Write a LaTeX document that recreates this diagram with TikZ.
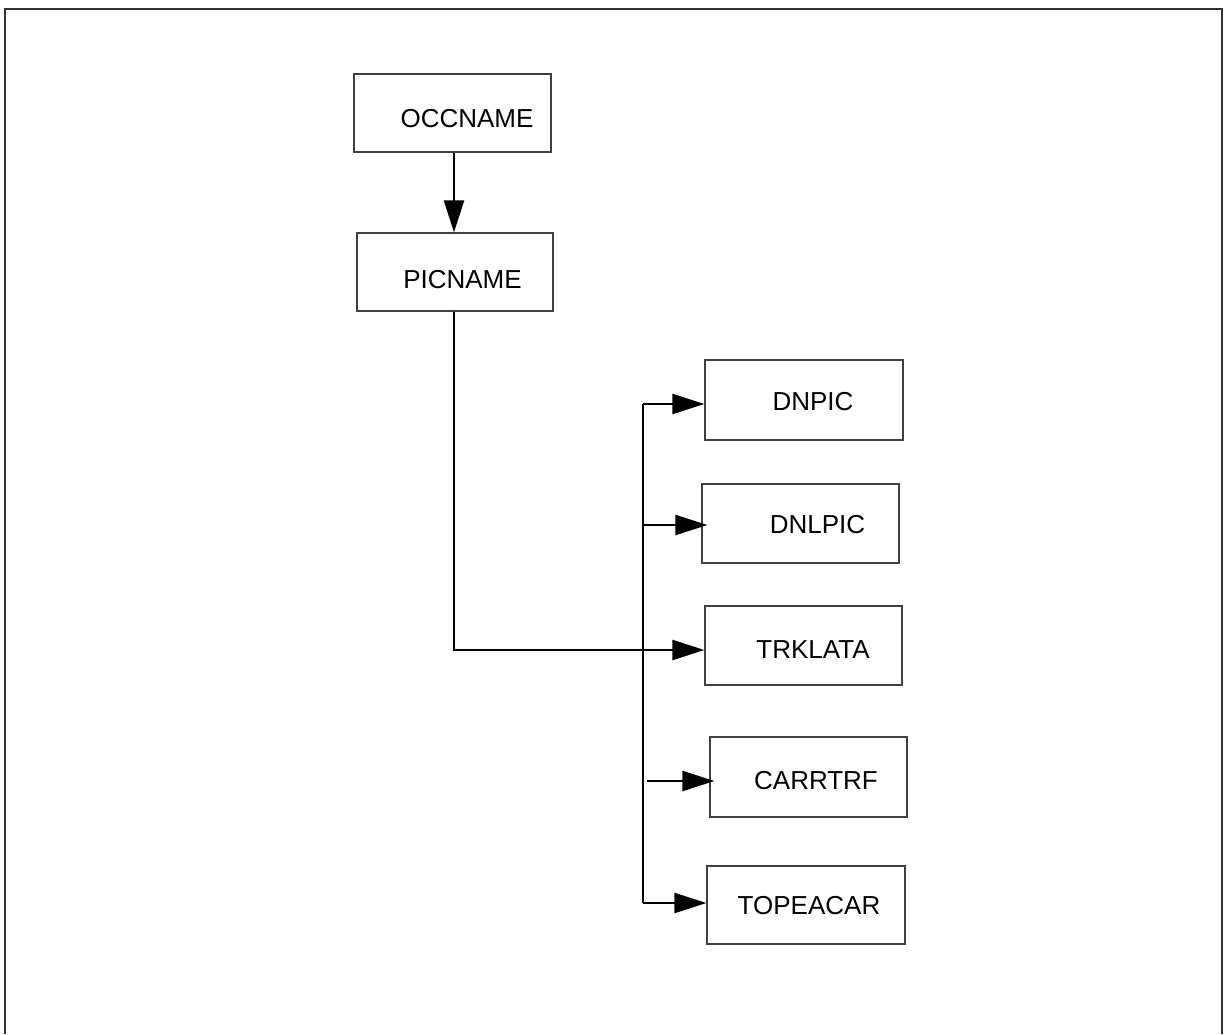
\documentclass[tikz,border=0pt]{standalone}
\usepackage{fontspec}
\setmainfont{Liberation Sans}
\usetikzlibrary{arrows.meta}
\begin{document}
\begin{tikzpicture}[x=1pt,y=-1pt,
  box/.style={draw=black!75,line width=1.2pt,minimum width=197pt,minimum height=79pt,inner sep=0pt},
  lbl/.style={font=\fontsize{26}{30}\selectfont,inner sep=0pt},
  conn/.style={line width=2.2pt,black},
  arr/.style={conn,-{Triangle[length=32pt,width=20pt]}},
  frame/.style={draw=black!80,line width=1.5pt}]
\useasboundingbox (0,0) rectangle (1225,1034);
\draw[frame] (5,1034) -- (5,9) -- (1222,9) -- (1222,1034);
% boxes
\node[box,minimum width=197pt,minimum height=78pt] (occ) at (452.5,113) {};
\node[lbl] (occt) at (467,119) {OCCNAME};
\node[box,minimum width=196pt,minimum height=78pt] (pic) at (455,272) {};
\node[lbl] (pict) at (462.5,280) {PICNAME};
\node[box,minimum width=198pt,minimum height=80pt] (dnpic) at (804,400) {};
\node[lbl] (dnpict) at (813,402) {DNPIC};
\node[box] (dnlpic) at (800.5,523.5) {};
\node[lbl] (dnlpict) at (817.5,525) {DNLPIC};
\node[box] (trk) at (803.5,645.5) {};
\node[lbl] (trkt) at (813,650) {TRKLATA};
\node[box,minimum height=80pt] (carr) at (808.5,777) {};
\node[lbl] (carrt) at (816,781) {CARRTRF};
\node[box,minimum width=198pt,minimum height=78pt] (topc) at (806,905) {};
\node[lbl] (topct) at (809,906) {TOPEACAR};
% connectors
\coordinate (bt) at (643,404);
\coordinate (bb) at (643,903);
\coordinate (b2) at (643,525);
\coordinate (c4) at (647,781);
\coordinate (p1) at (454,650);
\draw[arr] (occ.south -| 454,0) -- (pic.north -| 454,0);
\draw[conn] (bt) -- (bb);
\draw[arr] (bt) -- (dnpic.west |- bt);
\draw[arr] (b2) -- ([xshift=6pt]dnlpic.west |- b2);
\draw[arr] (pic.south -| p1) -- (p1) -- (trk.west |- p1);
\draw[arr] (c4) -- ([xshift=5pt]carr.west |- c4);
\draw[arr] (bb) -- (topc.west |- bb);
\end{tikzpicture}
\end{document}
